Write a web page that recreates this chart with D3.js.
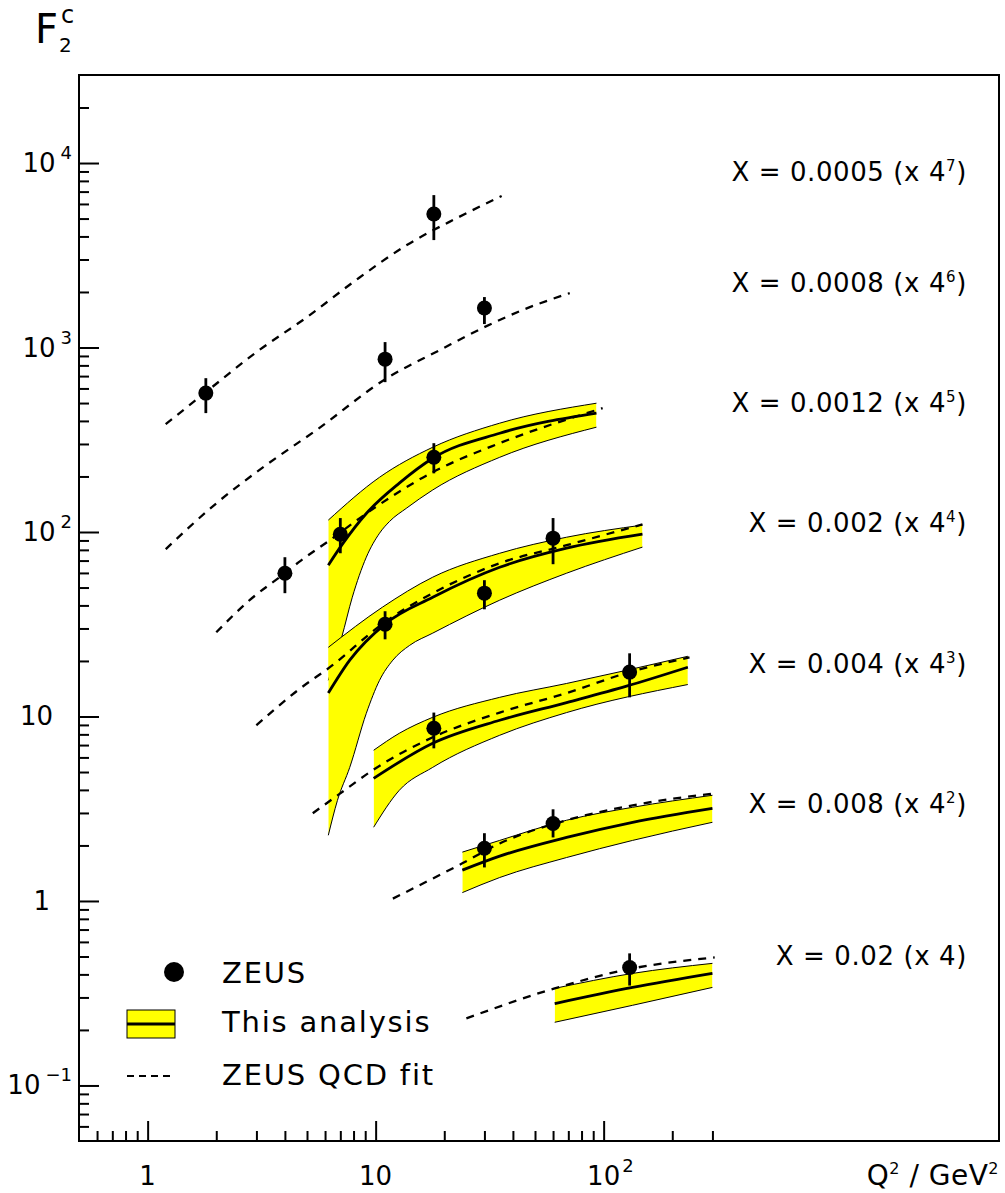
<!DOCTYPE html>
<html><head><meta charset="utf-8">
<script src="https://cdn.jsdelivr.net/npm/d3@7"></script>
<style>
body{margin:0;background:#fff}
svg{display:block}
text{font-family:"DejaVu Sans",sans-serif;fill:#000}
</style>
</head><body>
<svg id="c" width="1005" height="1193"></svg>
<script>
// ---------------- DATA ----------------
const xBins = ["0.0005","0.0008","0.0012","0.002","0.004","0.008","0.02"];
const scaleExp = [7,6,5,4,3,2,1];

// ZEUS data points (plotted, already multiplied by 4^n)
const zeusQ2 = [[1.8,18],[11,30],[4,7,18],[11,30,60],[18,130],[30,60],[130]];
const zeusF2 = [[566,5290],[865,1636],[59.8,97.3,254],[31.6,46.6,92.6],[8.63,17.4],[1.93,2.63],[0.436]];
const zeusLo = [[441,3822],[649,1340],[46.6,76.7,208],[26.2,38.1,66.9],[6.72,12.7],[1.52,2.21],[0.348]];
const zeusHi = [[682,6700],[1070,1877],[73,119,303],[37.2,54.8,119],[10.5,22.0],[2.33,3.14],[0.520]];

// ZEUS QCD fit (dashed)
const fitQ2 = [
  [1.2,1.8,3,5,8.2,13.7,22.7,35.7],
  [1.2,2,3.3,5.5,11.2,19.1,30,44,71],
  [2,2.8,4,4.6,6.3,9.1,17.8,35,99],
  [3,4.6,6.3,11.1,17.8,35,68.8,148],
  [5.3,7,9.7,17.8,35,68.8,130,238],
  [11.9,24,35,68.8,134,307],
  [25,61,134,307]];
const fitF2 = [
  [384,573,944,1462,2320,3592,5030,6622],
  [80.7,143,230,357,682,968,1290,1595,1972],
  [28.6,42.7,59.8,68.6,90.3,126,211,303,469],
  [8.96,14.0,18.5,32.8,46.6,67.7,84.8,110],
  [2.99,3.83,5.11,7.71,10.5,13.4,17.4,20.9],
  [1.03,1.60,2.05,2.74,3.30,3.83],
  [0.231,0.336,0.431,0.494]];

// This analysis (bins 0.0012 ... 0.02)
const anaBin = [2,3,4,5,6];
const anaQ2 = [
  [6.2,7.2,9.1,12.7,17.8,35,93],
  [6.2,7.7,11.1,17.8,35,68.8,148],
  [9.8,17.8,35,68.8,126,234],
  [24,35,68.8,134,300],
  [61,134,300]];
const anaF2 = [
  [66.1,87.0,126,184,251,343,441],
  [13.4,20.2,32.0,44.3,64.4,81.7,97.3],
  [4.62,7.16,9.54,11.9,14.6,18.5],
  [1.47,1.75,2.21,2.67,3.18],
  [0.278,0.340,0.405]];
const anaUpQ2 = [
  [6.2,10.4,17.8,35,93],
  [6.2,10.7,17.8,35,68.8,148],
  [9.8,12.7,17.8,35,68.8,126,234],
  [24,35,68.8,134,300],
  [61,134,300]];
const anaUp = [
  [116,198,288,389,499],
  [23.7,39.1,56.9,76.7,93.7,109],
  [6.56,8.11,9.90,12.7,15.1,17.8,21.2],
  [1.84,2.13,2.74,3.22,3.74],
  [0.336,0.405,0.459]];
const anaLoQ2 = [
  [6.2,7.1,7.9,9.1,10.4,11.5,13.7,17.8,35,93],
  [6.2,6.8,7.7,9.1,10.4,11.9,14.1,17.8,35,68.8,148],
  [9.8,12.7,17.8,35,68.8,234],
  [24,35,68.8,134,300],
  [61,134,300]];
const anaLo = [
  [15.7,26.9,44.3,73.0,98.5,114,135,169,254,370],
  [2.27,3.51,5.30,10.4,15.7,20.2,24.3,28.3,42.7,59.8,82.8],
  [2.51,3.98,5.30,7.91,10.5,14.9],
  [1.11,1.34,1.72,2.13,2.67],
  [0.220,0.272,0.340]];

// axis ticks
const xTickVals = [0.6,0.7,0.8,0.9,1,2,3,4,5,6,7,8,9,10,20,30,40,50,60,70,80,90,100,200,300];
const xMajor = [1,10,100];
const xTickLabels = [["1",""],["10",""],["10","2"]];
const yMajor = [0.1,1,10,100,1000,10000];
const yTickLabels = [["10","\u22121"],["1",""],["10",""],["10","2"],["10","3"],["10","4"]];
const legendLabels = ["ZEUS","This analysis","ZEUS QCD fit"];

// ---------------- LAYOUT ----------------
const L = 79, R = 999, T = 75, B = 1141;
const svg = d3.select("#c");
const x = d3.scaleLog().domain([0.5, 5420]).range([L, R]);
const y = d3.scaleLog().domain([0.05, 30000]).range([B, T]);

const yTickVals = [];
for (let e = -2; e <= 4; e++) for (let m = 1; m <= 9; m++) {
  const v = +(m * Math.pow(10, e)).toPrecision(3);
  if (v > 0.05 && v < 30000) yTickVals.push(v);
}
const isMajor = v => Math.abs(Math.log10(v) - Math.round(Math.log10(v))) < 1e-6;

// axes
const gx = svg.append("g").attr("transform", `translate(0,${B})`)
  .call(d3.axisBottom(x).tickValues(xTickVals).tickFormat("").tickSizeOuter(0).tickSizeInner(-10));
gx.select(".domain").remove();
gx.selectAll(".tick line").attr("y2", d => isMajor(d) ? -20 : -10).attr("stroke", "#000").attr("stroke-width", 2);

const gy = svg.append("g").attr("transform", `translate(${L},0)`)
  .call(d3.axisLeft(y).tickValues(yTickVals).tickFormat("").tickSizeOuter(0).tickSizeInner(-10));
gy.select(".domain").remove();
gy.selectAll(".tick line").attr("x2", d => isMajor(d) ? 20 : 10).attr("stroke", "#000").attr("stroke-width", 2);

svg.append("rect").attr("x", L).attr("y", T).attr("width", R - L).attr("height", B - T)
  .attr("fill", "none").attr("stroke", "#000").attr("stroke-width", 2);

// tick labels
xMajor.forEach((v, i) => {
  const [b, s] = xTickLabels[i];
  svg.append("text").attr("x", x(v)).attr("y", 1185).attr("text-anchor", "middle")
    .attr("font-size", 26).text(b);
  if (s) {
    const w = b.length * 16.5;
    svg.append("text").attr("x", x(v) + w / 2 + 2).attr("y", 1172).attr("font-size", 18).text(s);
  }
});
yMajor.forEach((v, i) => {
  const [b, s] = yTickLabels[i];
  const t = svg.append("text").attr("y", y(v) + 9).attr("font-size", 26).attr("text-anchor", "end");
  if (s) {
    t.attr("x", 72);
    t.append("tspan").text(b);
    t.append("tspan").attr("dx", 5).attr("dy", -13).attr("font-size", 18).text(s);
  } else {
    t.attr("x", b === "1" ? 50 : 53).text(b);
  }
});

// axis titles
svg.append("text").attr("x", 35).attr("y", 43).attr("font-size", 40).text("F");
svg.append("text").attr("x", 59).attr("y", 52).attr("font-size", 20).text("2");
svg.append("text").attr("x", 61).attr("y", 23).attr("font-size", 24).text("c");
const qt = svg.append("text").attr("x", 999).attr("y", 1185).attr("text-anchor", "end")
  .attr("font-size", 28).attr("letter-spacing", 0.5);
qt.append("tspan").text("Q");
qt.append("tspan").attr("dy", -11).attr("font-size", 16).text("2");
qt.append("tspan").attr("dy", 11).text(" / GeV");
qt.append("tspan").attr("dy", -11).attr("font-size", 16).text("2");

// ---------------- MARKS ----------------
const curve = d3.curveMonotoneX;
const line = d3.line().x(d => x(d[0])).y(d => y(d[1])).curve(curve);
const areaDown = d3.area().x(d => x(d[0])).y1(d => y(d[1])).y0(B).curve(curve);
const areaUp = d3.area().x(d => x(d[0])).y1(d => y(d[1])).y0(T).curve(curve);
const zip = (a, b) => a.map((v, i) => [v, b[i]]);

const defs = svg.append("defs");
const gBand = svg.append("g");
anaBin.forEach((bin, k) => {
  const up = zip(anaUpQ2[k], anaUp[k]);
  const lo = zip(anaLoQ2[k], anaLo[k]);
  const id = "bandclip" + k;
  defs.append("clipPath").attr("id", id).append("path").attr("d", areaDown(up));
  gBand.append("path").attr("d", areaUp(lo)).attr("clip-path", `url(#${id})`)
    .attr("fill", "#ffff00").attr("stroke", "none");
  gBand.append("path").attr("d", line(up)).attr("fill", "none").attr("stroke", "#000").attr("stroke-width", 1);
  gBand.append("path").attr("d", line(lo)).attr("fill", "none").attr("stroke", "#000").attr("stroke-width", 1);
});
anaBin.forEach((bin, k) => {
  svg.append("path").attr("d", line(zip(anaQ2[k], anaF2[k]))).attr("fill", "none")
    .attr("stroke", "#000").attr("stroke-width", 2.8);
});
xBins.forEach((b, i) => {
  svg.append("path").attr("d", line(zip(fitQ2[i], fitF2[i]))).attr("fill", "none")
    .attr("stroke", "#000").attr("stroke-width", 2.3).attr("stroke-dasharray", "8,7");
});
xBins.forEach((b, i) => {
  const g = svg.append("g");
  zeusQ2[i].forEach((q, j) => {
    g.append("line").attr("x1", x(q)).attr("x2", x(q)).attr("y1", y(zeusLo[i][j])).attr("y2", y(zeusHi[i][j]))
      .attr("stroke", "#000").attr("stroke-width", 2.8);
    g.append("circle").attr("cx", x(q)).attr("cy", y(zeusF2[i][j])).attr("r", 7.5).attr("fill", "#000");
  });
});

// bin labels
const labelY = [181, 292, 412, 532, 673, 813, 965];
xBins.forEach((b, i) => {
  const t = svg.append("text").attr("x", 967).attr("y", labelY[i]).attr("text-anchor", "end")
    .attr("font-size", 26).attr("letter-spacing", 0.6);
  if (scaleExp[i] > 1) {
    t.append("tspan").text(`X = ${b} (x 4`);
    t.append("tspan").attr("dy", -10).attr("font-size", 15).text(scaleExp[i]);
    t.append("tspan").attr("dy", 10).text(")");
  } else {
    t.text(`X = ${b} (x 4)`);
  }
});

// legend
const lg = svg.append("g");
lg.append("circle").attr("cx", 174).attr("cy", 972).attr("r", 10).attr("fill", "#000");
lg.append("rect").attr("x", 127).attr("y", 1010).attr("width", 48).attr("height", 28)
  .attr("fill", "#ffff00").attr("stroke", "#000").attr("stroke-width", 1);
lg.append("line").attr("x1", 127).attr("x2", 175).attr("y1", 1024).attr("y2", 1024)
  .attr("stroke", "#000").attr("stroke-width", 2.8);
lg.append("line").attr("x1", 127).attr("x2", 175).attr("y1", 1076).attr("y2", 1076)
  .attr("stroke", "#000").attr("stroke-width", 2).attr("stroke-dasharray", "7,5");
[983, 1032, 1085].forEach((yy, i) => {
  lg.append("text").attr("x", 222).attr("y", yy).attr("font-size", 29).attr("letter-spacing", 1.8)
    .text(legendLabels[i]);
});
</script>
</body></html>
